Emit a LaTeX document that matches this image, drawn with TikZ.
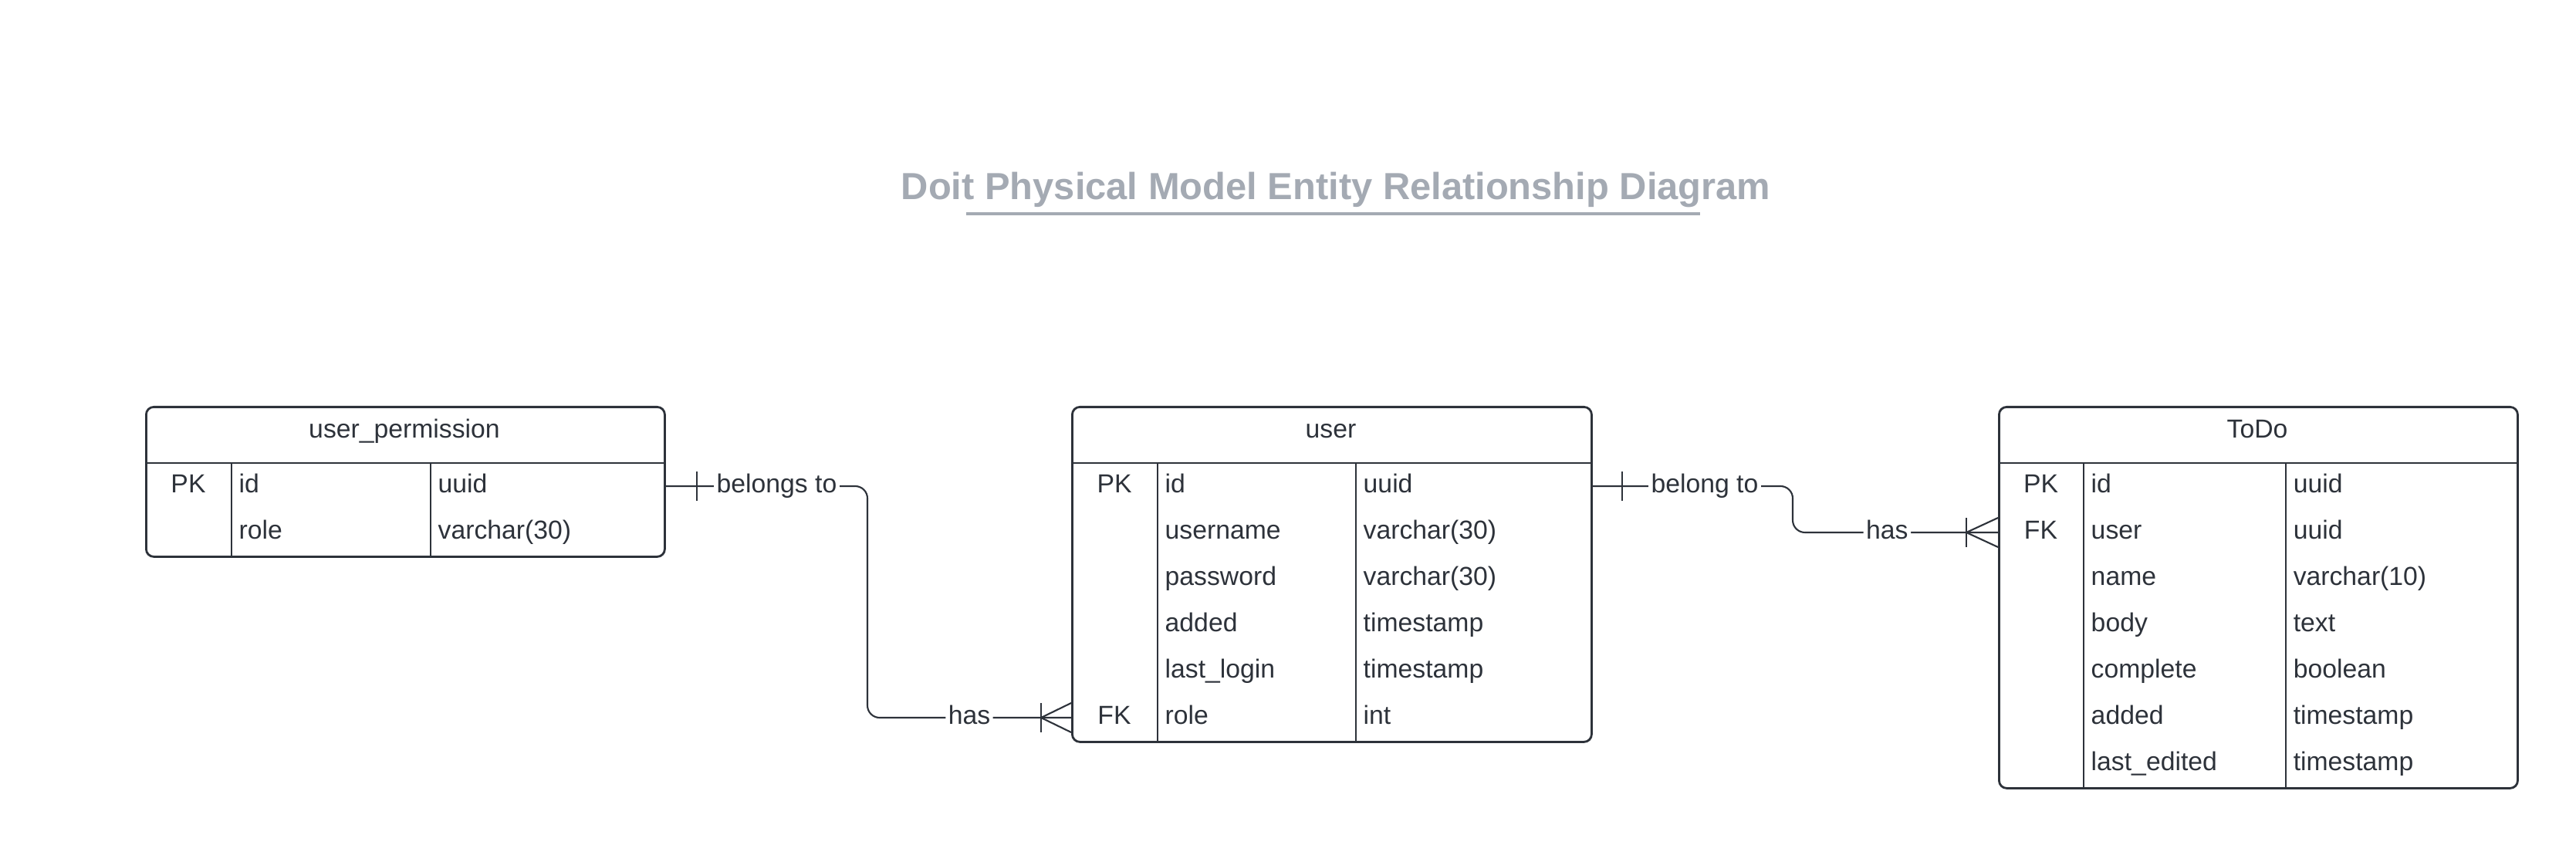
\documentclass[tikz,border=0pt]{standalone}
\usepackage{fontspec}
\setmainfont{Liberation Sans}
\usetikzlibrary{calc}
\definecolor{ink}{HTML}{2D323A}
\definecolor{titlegray}{HTML}{A4AAB3}
\tikzset{
  tablebox/.style={draw=ink, line width=0.8pt, rounded corners=2.8pt, anchor=north west, inner sep=0pt},
  rule/.style={draw=ink, line width=0.8pt},
  cell/.style={text=ink, inner sep=0pt, text height=0.716em, text depth=0.24em, font=\fontsize{9.6}{11}\selectfont},
  keycell/.style={cell, anchor=center},
  fieldcell/.style={cell, anchor=west},
  link/.style={draw=ink, line width=0.6pt, rounded corners=4.5pt},
  crowline/.style={draw=ink, line width=0.6pt},
  lbl/.style={cell, fill=white, inner xsep=1pt},
}
\begin{document}
\begin{tikzpicture}
\useasboundingbox (0,0) rectangle (33.38,-10.95);

\node[anchor=base, text=titlegray, font=\bfseries\fontsize{13.9}{16}\selectfont] (title) at (17.31,-2.59) {Doit Physical Model Entity Relationship Diagram};
\draw[titlegray, line width=1pt] (12.52,-2.77) -- (22.03,-2.77); %underline

%user_permission
\node[tablebox, minimum width=6.72cm, minimum height=1.94cm] (up) at (1.88,-5.26) {};
\node[cell] (uphead) at (5.24,-5.59) {user\_permission};
\draw[rule] (1.88,-6.00) -- (8.60,-6.00);
\draw[rule] (3.00,-6.00) -- (3.00,-7.20);
\draw[rule] (5.58,-6.00) -- (5.58,-7.20);
\node[keycell] (up1) at (2.44,-6.30) {PK};
\node[fieldcell] (up1f) at (3.09,-6.30) {id};
\node[fieldcell] (up1t) at (5.67,-6.30) {uuid};
\node[fieldcell] (up2f) at (3.09,-6.90) {role};
\node[fieldcell] (up2t) at (5.67,-6.90) {varchar(30)};

%user
\node[tablebox, minimum width=6.73cm, minimum height=4.34cm] (user) at (13.88,-5.26) {};
\node[cell] (userhead) at (17.245,-5.59) {user};
\draw[rule] (13.88,-6.00) -- (20.61,-6.00);
\draw[rule] (15.00,-6.00) -- (15.00,-9.60);
\draw[rule] (17.57,-6.00) -- (17.57,-9.60);
\node[keycell] (user1) at (14.44,-6.30) {PK};
\node[fieldcell] (user1f) at (15.09,-6.30) {id};
\node[fieldcell] (user1t) at (17.66,-6.30) {uuid};
\node[fieldcell] (user2f) at (15.09,-6.90) {username};
\node[fieldcell] (user2t) at (17.66,-6.90) {varchar(30)};
\node[fieldcell] (user3f) at (15.09,-7.50) {password};
\node[fieldcell] (user3t) at (17.66,-7.50) {varchar(30)};
\node[fieldcell] (user4f) at (15.09,-8.10) {added};
\node[fieldcell] (user4t) at (17.66,-8.10) {timestamp};
\node[fieldcell] (user5f) at (15.09,-8.70) {last\_login};
\node[fieldcell] (user5t) at (17.66,-8.70) {timestamp};
\node[keycell] (user6) at (14.44,-9.30) {FK};
\node[fieldcell] (user6f) at (15.09,-9.30) {role};
\node[fieldcell] (user6t) at (17.66,-9.30) {int};

%ToDo
\node[tablebox, minimum width=6.72cm, minimum height=4.94cm] (todo) at (25.89,-5.26) {};
\node[cell] (todohead) at (29.25,-5.59) {ToDo};
\draw[rule] (25.89,-6.00) -- (32.61,-6.00);
\draw[rule] (27.00,-6.00) -- (27.00,-10.20);
\draw[rule] (29.62,-6.00) -- (29.62,-10.20);
\node[keycell] (todo1) at (26.445,-6.30) {PK};
\node[fieldcell] (todo1f) at (27.09,-6.30) {id};
\node[fieldcell] (todo1t) at (29.71,-6.30) {uuid};
\node[keycell] (todo2) at (26.445,-6.90) {FK};
\node[fieldcell] (todo2f) at (27.09,-6.90) {user};
\node[fieldcell] (todo2t) at (29.71,-6.90) {uuid};
\node[fieldcell] (todo3f) at (27.09,-7.50) {name};
\node[fieldcell] (todo3t) at (29.71,-7.50) {varchar(10)};
\node[fieldcell] (todo4f) at (27.09,-8.10) {body};
\node[fieldcell] (todo4t) at (29.71,-8.10) {text};
\node[fieldcell] (todo5f) at (27.09,-8.70) {complete};
\node[fieldcell] (todo5t) at (29.71,-8.70) {boolean};
\node[fieldcell] (todo6f) at (27.09,-9.30) {added};
\node[fieldcell] (todo6t) at (29.71,-9.30) {timestamp};
\node[fieldcell] (todo7f) at (27.09,-9.90) {last\_edited};
\node[fieldcell] (todo7t) at (29.71,-9.90) {timestamp};

%user_permission -- user
\coordinate (bendA) at (11.24,-6.30);
\draw[link] (up.east |- up1) -- node[lbl, pos=0.55] (lblA1) {belongs to} (bendA |- up1) -- (bendA |- user6) -- node[lbl] (lblA2) {has} (user.west |- user6);
\draw[crowline] ($(up.east |- up1)+(0.40,0.19)$) -- ++(0,-0.38); %one
\draw[crowline] ($(user.west |- user6)+(-0.39,0.19)$) -- ++(0,-0.38); %many
\draw[crowline] ($(user.west |- user6)+(0,0.19)$) -- ++(-0.39,-0.19) -- ++(0.39,-0.19);

%user -- ToDo
\coordinate (bendB) at (23.23,-6.30);
\draw[link] (user.east |- user1) -- node[lbl, pos=0.56] (lblB1) {belong to} (bendB |- user1) -- (bendB |- todo2) -- node[lbl, pos=0.46] (lblB2) {has} (todo.west |- todo2);
\draw[crowline] ($(user.east |- user1)+(0.38,0.19)$) -- ++(0,-0.38); %one
\draw[crowline] ($(todo.west |- todo2)+(-0.41,0.19)$) -- ++(0,-0.38); %many
\draw[crowline] ($(todo.west |- todo2)+(0,0.19)$) -- ++(-0.41,-0.19) -- ++(0.41,-0.19);

\end{tikzpicture}
\end{document}
